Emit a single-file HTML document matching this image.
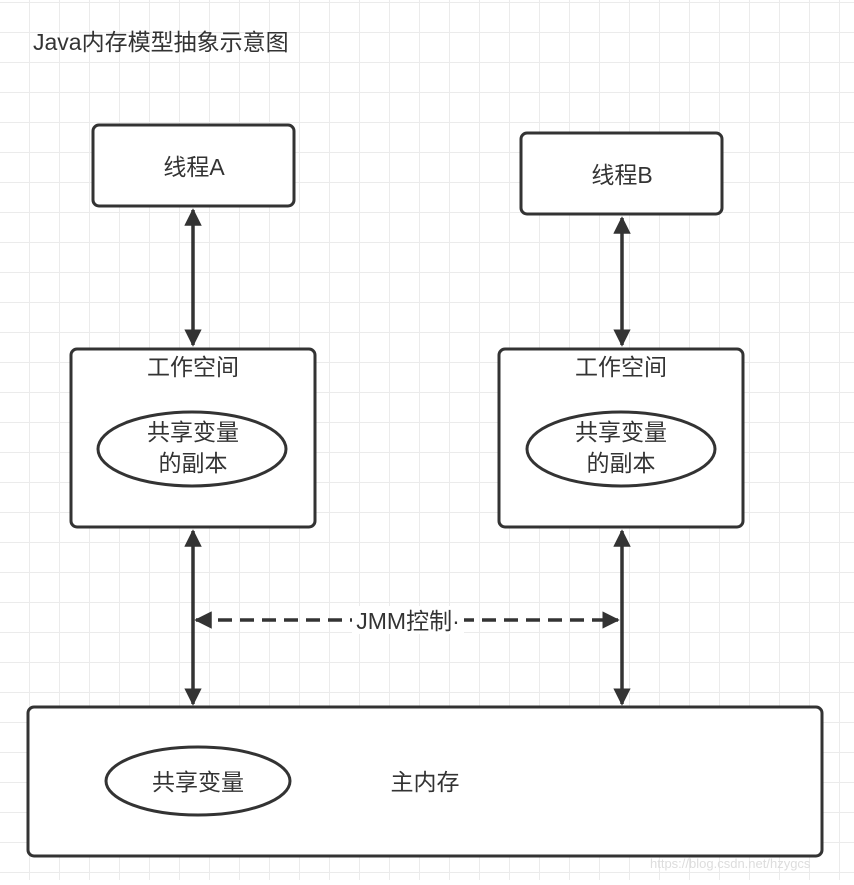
<!DOCTYPE html>
<html><head><meta charset="utf-8"><style>
html,body{margin:0;padding:0;background:#fff}
svg text{font-family:"Liberation Sans","Noto Sans CJK SC",sans-serif;fill:#333}
</style></head><body>
<svg width="854" height="880" xmlns="http://www.w3.org/2000/svg">
<defs>
<pattern id="g" x="-1" y="2" width="30" height="30" patternUnits="userSpaceOnUse">
<path d="M0 0H30M0 0V30" stroke="#ebebeb" stroke-width="2" fill="none"/>
</pattern>
<marker id="ah" viewBox="0 0 10 10" refX="9" refY="5" markerWidth="5" markerHeight="5" orient="auto-start-reverse" markerUnits="strokeWidth">
<path d="M0 0L10 5L0 10z" fill="#333"/>
</marker>
</defs>
<rect width="854" height="880" fill="url(#g)"/>
<text x="33" y="50" font-size="23">Java内存模型抽象示意图</text>
<g stroke="#333" stroke-width="3" fill="#fff">
<rect x="93" y="125" width="201" height="81" rx="6"/>
<rect x="521" y="133" width="201" height="81" rx="6"/>
<rect x="71" y="349" width="244" height="178" rx="6"/>
<rect x="499" y="349" width="244" height="178" rx="6"/>
<rect x="28" y="707" width="794" height="149" rx="6"/>
<ellipse cx="192" cy="449" rx="94" ry="37"/>
<ellipse cx="621" cy="449" rx="94" ry="37"/>
<ellipse cx="198" cy="781" rx="92" ry="34"/>
</g>
<g stroke="#333" stroke-width="3.5" fill="none">
<line x1="193" y1="210" x2="193" y2="345" marker-start="url(#ah)" marker-end="url(#ah)"/>
<line x1="622" y1="218" x2="622" y2="345" marker-start="url(#ah)" marker-end="url(#ah)"/>
<line x1="193" y1="531" x2="193" y2="704" marker-start="url(#ah)" marker-end="url(#ah)"/>
<line x1="622" y1="531" x2="622" y2="704" marker-start="url(#ah)" marker-end="url(#ah)"/>
<line x1="196" y1="620" x2="618" y2="620" stroke-dasharray="14,8" marker-start="url(#ah)" marker-end="url(#ah)"/>
</g>
<rect x="352" y="606" width="112" height="28" fill="#fff"/>
<g font-size="23" text-anchor="middle">
<text x="194" y="175">线程A</text>
<text x="622" y="183">线程B</text>
<text x="193" y="375">工作空间</text>
<text x="621" y="375">工作空间</text>
<text x="193" y="440">共享变量</text>
<text x="193" y="471">的副本</text>
<text x="621" y="440">共享变量</text>
<text x="621" y="471">的副本</text>
<text x="198" y="790">共享变量</text>
<text x="425" y="790">主内存</text>
<text x="408" y="629">JMM控制·</text>
</g>
<text x="650" y="868" font-size="13" style="fill:#ddd">https://blog.csdn.net/hzygcs</text>
</svg>
</body></html>
